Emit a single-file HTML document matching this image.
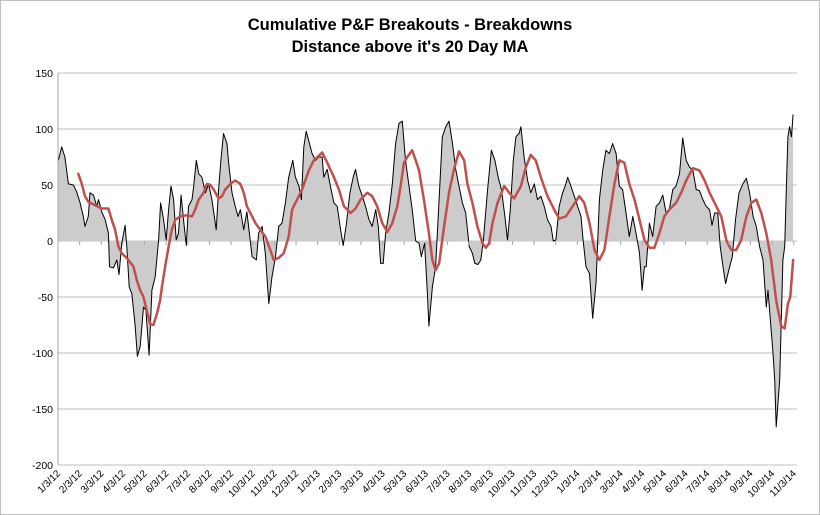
<!DOCTYPE html>
<html><head><meta charset="utf-8"><style>
html,body{margin:0;padding:0;background:#fff}
svg{display:block;font-family:"Liberation Sans",sans-serif}
</style></head><body>
<svg id="chart" width="820" height="515">
<rect x="0.5" y="0.5" width="819" height="514" fill="#fff" stroke="#bfbfbf"/>
<text x="410" y="30" text-anchor="middle" font-size="16.5" font-weight="bold">Cumulative P&amp;F Breakouts - Breakdowns</text>
<text x="410" y="52" text-anchor="middle" font-size="16.5" font-weight="bold">Distance above it's 20 Day MA</text>
<g id="grid"></g><g id="area"></g><g id="lines"></g><g id="axes"></g>
</svg>
<script>
const yTicks=[150,100,50,0,-50,-100,-150,-200];
const monthLabels=["1/3/12","2/3/12","3/3/12","4/3/12","5/3/12","6/3/12","7/3/12","8/3/12","9/3/12","10/3/12","11/3/12","12/3/12","1/3/13","2/3/13","3/3/13","4/3/13","5/3/13","6/3/13","7/3/13","8/3/13","9/3/13","10/3/13","11/3/13","12/3/13","1/3/14","2/3/14","3/3/14","4/3/14","5/3/14","6/3/14","7/3/14","8/3/14","9/3/14","10/3/14","11/3/14"];
// time in months since 1/3/12
const rawMonths=[0.02,0.17,0.32,0.48,0.71,0.86,1.02,1.17,1.25,1.40,1.48,1.64,1.79,1.87,2.02,2.18,2.33,2.38,2.56,2.72,2.82,2.95,3.10,3.18,3.29,3.41,3.56,3.67,3.80,3.95,4.06,4.21,4.34,4.49,4.65,4.74,4.88,5.00,5.11,5.22,5.34,5.46,5.57,5.69,5.80,5.93,6.03,6.19,6.27,6.39,6.50,6.65,6.81,6.96,7.11,7.31,7.42,7.53,7.65,7.81,7.89,8.04,8.19,8.32,8.43,8.58,8.73,8.97,9.17,9.27,9.43,9.58,9.74,9.89,10.05,10.20,10.35,10.51,10.66,10.85,10.97,11.13,11.25,11.36,11.47,11.62,11.74,11.90,
12.05,12.21,12.28,12.44,12.59,12.75,12.90,13.06,13.18,13.33,13.49,13.64,13.75,13.90,14.06,14.21,14.37,14.52,14.68,14.80,14.91,15.03,15.14,15.29,15.45,15.60,15.76,15.91,16.06,16.22,16.37,16.53,16.68,16.79,16.94,17.07,17.14,17.30,17.45,17.61,17.76,17.92,18.07,18.23,18.38,18.53,18.69,18.84,19.00,19.15,19.26,19.41,19.54,19.66,19.85,20.03,20.19,20.34,20.49,20.65,20.77,20.90,21.04,21.16,21.31,21.39,21.54,21.70,21.85,22.01,22.16,22.31,22.47,22.62,22.78,22.89,23.01,23.16,
23.32,23.47,23.55,23.70,23.86,24.01,24.17,24.27,24.40,24.56,24.71,24.86,25.02,25.17,25.32,25.48,25.63,25.79,25.94,26.09,26.25,26.40,26.56,26.71,26.87,26.99,27.10,27.18,27.33,27.48,27.64,27.79,27.95,28.10,28.25,28.41,28.56,28.72,28.87,29.03,29.18,29.34,29.49,29.64,29.80,29.95,30.11,30.22,30.34,30.49,30.60,30.73,30.85,31.00,31.16,31.31,31.47,31.65,31.81,31.96,32.12,32.27,32.42,32.58,32.73,32.81,32.92,33.04,33.12,33.19,33.35,33.50,33.58,33.66,33.73,33.81,33.89,33.97];
const rawValues=[72,84,75,51,50,44,34,22,13,22,43,41,31,37,26,19,7,-23,-24,-17,-30,-2,14,-5,-41,-47,-74,-103,-94,-59,-62,-102,-44,-32,1,34,19,1,28,49,37,1,7,41,19,-4,31,37,49,72,60,57,43,51,37,10,46,72,96,87,69,43,31,22,28,10,26,-14,-17,7,13,-11,-56,-32,-14,13,16,34,57,72,57,49,37,84,98,87,78,72,
75,75,57,64,49,34,31,10,-4,16,43,57,64,49,40,31,19,13,28,13,-20,-20,7,25,51,87,105,107,72,49,28,0,-2,-14,-2,-47,-76,-41,-23,37,93,102,107,87,64,49,34,25,-5,-11,-20,-21,-17,1,46,81,72,57,46,22,1,28,72,93,96,102,75,54,43,51,37,40,31,19,13,0,1,31,
43,51,57,49,40,31,22,0,-23,-29,-69,-38,37,63,81,78,87,78,49,46,25,4,22,7,-11,-44,-23,-23,16,4,31,34,41,25,28,46,49,60,92,72,66,63,46,45,37,31,28,14,25,25,-5,-23,-38,-26,-14,19,43,51,56,43,22,13,-5,-17,-59,-44,-71,-100,-124,-166,-124,-17,-5,49,93,102,93,113];
const maMonths=[0.94,1.10,1.25,1.40,1.71,2.02,2.33,2.48,2.64,2.79,2.95,3.26,3.49,3.64,3.80,3.95,4.10,4.26,4.41,4.57,4.72,4.80,4.95,5.11,5.26,5.42,5.65,5.96,6.19,6.34,6.50,6.73,6.88,7.04,7.19,7.42,7.58,7.73,7.96,8.19,8.43,8.58,8.73,8.97,9.12,9.35,9.58,9.81,9.97,10.20,10.43,10.66,10.82,10.97,11.28,11.59,11.82,
12.21,12.44,12.75,12.98,13.21,13.52,13.75,13.98,14.29,14.52,14.75,14.98,15.22,15.45,15.68,15.83,15.99,16.14,16.37,16.53,16.68,16.91,17.14,17.30,17.45,17.61,17.84,18.07,18.30,18.53,18.77,18.92,19.15,19.38,19.61,19.77,19.92,20.08,20.31,20.62,20.85,21.08,21.39,21.62,21.85,22.08,22.31,22.62,22.93,23.16,
23.47,23.78,24.09,24.32,24.56,24.79,25.02,25.25,25.48,25.71,25.94,26.17,26.40,26.64,26.87,27.10,27.33,27.56,27.79,28.02,28.25,28.56,28.80,29.03,29.34,29.64,29.88,30.11,30.42,30.65,30.88,31.11,31.34,31.57,31.81,32.04,32.27,32.50,32.73,32.96,33.19,33.42,33.58,33.73,33.84,33.97];
const maValues=[60,51,40,35,32,29,29,19,10,-5,-11,-17,-23,-35,-44,-50,-62,-74,-75,-65,-53,-41,-23,-5,10,19,22,23,22,28,37,43,51,50,46,38,40,46,51,54,51,43,31,22,16,10,4,-8,-17,-15,-11,4,28,34,46,63,72,
79,70,57,46,31,25,29,37,43,40,31,16,8,16,31,49,70,75,81,72,63,37,7,-17,-26,-20,13,43,64,80,72,51,34,13,-2,-6,-2,16,34,49,43,38,49,66,77,72,57,40,28,20,
22,31,40,34,16,-8,-17,-8,22,51,72,70,51,37,19,1,-6,-6,7,22,28,34,43,54,65,63,54,43,31,22,1,-8,-8,1,22,34,37,25,7,-17,-53,-76,-78,-56,-50,-17];

const X0=58,X1=797,Y0=73,Y1=465,vMax=150,vMin=-200,mMax=34.15;
const xS=m=>X0+m/mMax*(X1-X0);
const yS=v=>Y0+(vMax-v)/(vMax-vMin)*(Y1-Y0);
const NS="http://www.w3.org/2000/svg";
function mk(tag,attrs,parent){const e=document.createElementNS(NS,tag);for(const k in attrs)e.setAttribute(k,attrs[k]);parent.appendChild(e);return e;}
const grid=document.getElementById('grid'),axes=document.getElementById('axes'),area=document.getElementById('area'),lines=document.getElementById('lines');
yTicks.forEach(v=>{
  const g=mk('line',{x1:X0,x2:X1,y1:yS(v),y2:yS(v),stroke:'#c0c0c0','stroke-width':1},grid);
  
  
  const t=mk('text',{x:53,y:yS(v)+4,'text-anchor':'end','font-size':10.5,fill:'#000'},axes);
  t.textContent=v;
  
  
});
const ax=mk('line',{x1:X0,x2:X0,y1:Y0,y2:Y1,stroke:'#a6a6a6'},axes);


monthLabels.forEach((lab,i)=>{
  const x=xS(i);
  const tk=mk('line',{x1:x,x2:x,y1:yS(0),y2:yS(0)+4,stroke:'#a6a6a6'},axes);
  
  
  const t=mk('text',{x:x+3,y:474,'text-anchor':'end','font-size':10,transform:`rotate(-45 ${x+3} 474)`},axes);
  t.textContent=lab;
  
  
});
let pts=rawMonths.map((m,i)=>xS(m).toFixed(1)+','+yS(rawValues[i]).toFixed(1));
const y0=yS(0).toFixed(1);
const ar=mk('polygon',{points:xS(rawMonths[0]).toFixed(1)+','+y0+' '+pts.join(' ')+' '+xS(rawMonths[rawMonths.length-1]).toFixed(1)+','+y0,fill:'#cccccc',stroke:'none'},area);


const bl=mk('polyline',{points:pts.join(' '),fill:'none',stroke:'#000','stroke-width':1,'stroke-linejoin':'round'},lines);


const mp=maMonths.map((m,i)=>xS(m).toFixed(1)+','+yS(maValues[i]).toFixed(1));
const rl=mk('polyline',{points:mp.join(' '),fill:'none',stroke:'#c0504d','stroke-width':2.5,'stroke-linejoin':'round','stroke-linecap':'round'},lines);


</script>
</body></html>
